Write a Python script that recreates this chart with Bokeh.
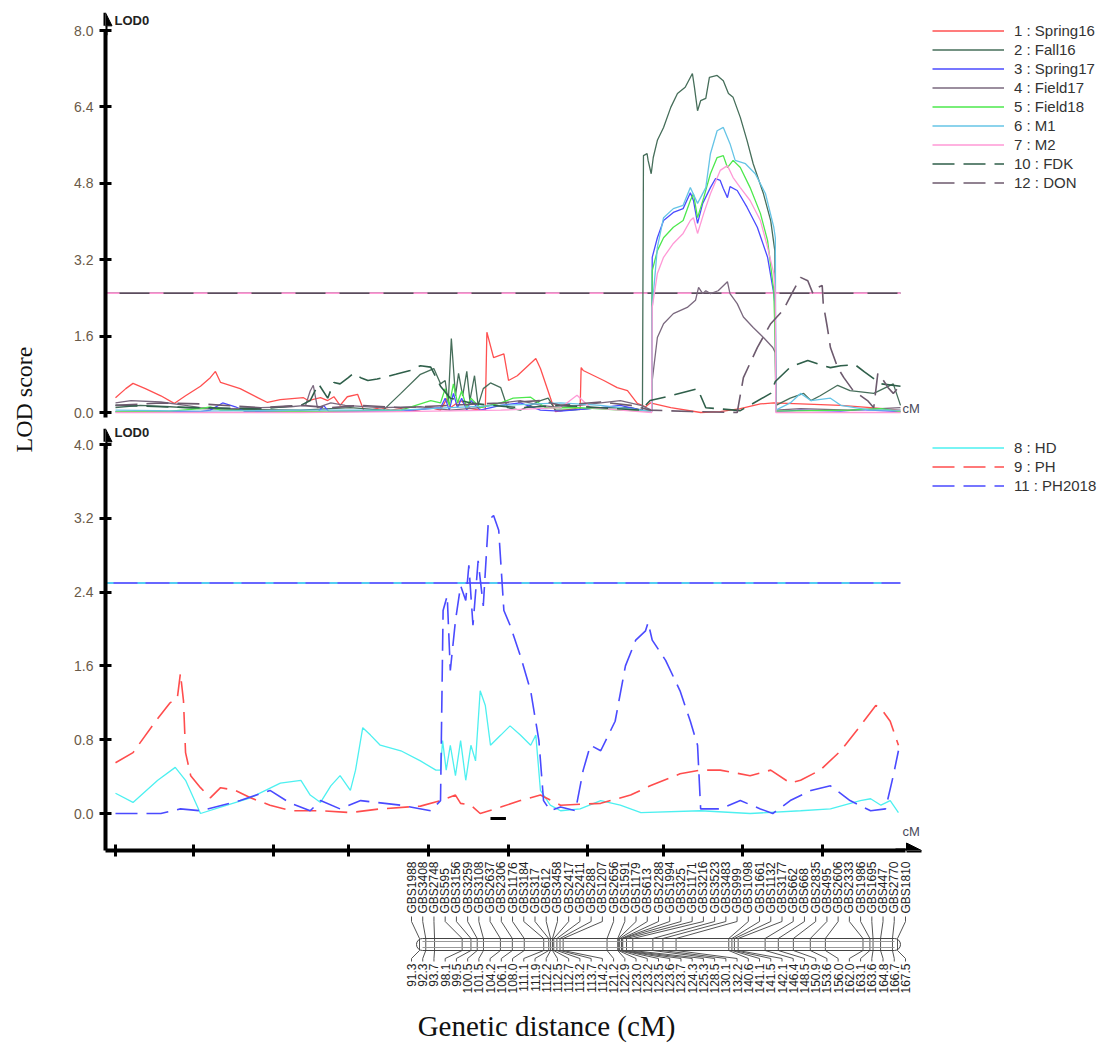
import math
from bokeh.plotting import figure
from bokeh.models import (Range1d, LinearAxis, FixedTicker, PrintfTickFormatter,
                          Legend, LegendItem, Label, Arrow, NormalHead)
from bokeh.layouts import row, column
from bokeh.embed import file_html
from bokeh.resources import INLINE
from bokeh.core.properties import value

# ------------------------------------------------------------------ data
# (position cM, LOD)
spring16 = [(91.3, 0.31), (92.3, 0.5), (93.0, 0.61), (94.2, 0.5), (95.7, 0.35), (97.0, 0.19),
            (98.1, 0.35), (99.55, 0.55), (100.5, 0.73), (101.0, 0.86), (101.5, 0.63), (103.4, 0.5),
            (105.1, 0.31), (106.05, 0.21), (107.3, 0.27), (109.55, 0.31), (110.0, 0.25), (111.2, 0.31),
            (111.9, 0.25), (112.5, 0.33), (113.1, 0.15), (113.8, 0.33), (114.8, 0.38), (115.4, 0.04),
            (116.05, 0.05), (117.0, 0.1), (118.0, 0.05), (119.0, 0.08), (119.9, 0.03), (120.9, 0.06),
            (121.9, 0.1), (122.85, 0.05), (123.5, 0.3), (123.8, 0.1), (124.8, 0.25), (125.8, 0.08),
            (126.7, 0.05), (127.2, 0.06), (127.35, 1.68), (128.0, 1.15), (129.0, 1.23), (129.45, 0.67),
            (130.3, 0.77), (132.1, 1.13), (132.55, 0.92), (133.7, 0.19), (134.0, 0.02), (134.95, 0.05),
            (135.95, 0.08), (136.4, 0.06), (136.5, 0.94), (136.7, 0.88), (138.7, 0.67), (140.0, 0.52),
            (141.0, 0.46), (141.95, 0.19), (142.75, 0.12), (143.2, 0.2), (145.2, 0.1), (148.1, 0.0),
            (150.0, 0.02), (151.95, 0.08), (153.9, 0.18), (155.2, 0.2), (157.8, 0.18), (161.7, 0.15),
            (164.6, 0.1), (167.5, 0.05)]
fall16 = [(91.3, 0.1), (93.7, 0.15), (96.6, 0.12), (99.55, 0.08), (104.4, 0.06), (109.3, 0.05),
          (114.1, 0.1), (117.3, 0.05), (119.0, 0.4), (120.9, 0.8), (122.2, 0.92), (122.85, 0.6),
          (123.3, 0.67), (123.6, 0.2), (123.9, 1.55), (124.3, 0.35), (124.6, 0.82), (125.0, 0.35),
          (125.4, 0.86), (125.7, 0.25), (126.15, 0.77), (126.5, 0.15), (127.0, 0.5), (127.7, 0.62),
          (128.7, 0.52), (129.35, 0.1), (130.6, 0.05), (132.55, 0.25), (133.3, 0.3), (134.0, 0.05),
          (135.5, 0.05), (138.4, 0.1), (141.3, 0.1), (142.45, 0.05), (142.55, 5.38), (142.9, 5.42),
          (143.0, 5.28), (143.3, 5.0), (143.5, 5.34), (143.9, 5.7), (144.5, 5.97), (145.2, 6.39),
          (145.85, 6.68), (146.6, 6.81), (147.3, 7.1), (147.5, 6.81), (147.8, 6.32), (148.1, 6.53),
          (148.6, 6.58), (148.95, 7.02), (149.7, 7.06), (150.3, 6.95), (150.8, 6.68), (151.25, 6.6),
          (151.95, 6.18), (152.6, 5.7), (153.2, 5.21), (154.2, 4.58), (154.9, 4.02), (155.3, 3.39),
          (155.4, 0.15), (156.8, 0.3), (158.1, 0.4), (158.8, 0.25), (159.7, 0.35), (161.4, 0.57),
          (162.6, 0.46), (164.9, 0.4), (166.8, 0.6), (167.5, 0.15)]
spring17 = [(91.3, 0.02), (99.55, 0.02), (100.5, 0.05), (101.7, 0.2), (102.95, 0.12), (103.9, 0.02),
            (109.3, 0.01), (111.0, 0.02), (111.5, 0.15), (112.0, 0.02), (119.0, 0.03), (122.85, 0.1),
            (123.3, 0.3), (123.7, 0.05), (124.1, 0.4), (124.5, 0.1), (124.9, 0.3), (125.4, 0.05),
            (125.8, 0.25), (126.7, 0.05), (128.7, 0.15), (130.6, 0.2), (132.55, 0.05), (134.5, 0.03),
            (138.4, 0.1), (140.3, 0.15), (142.3, 0.05), (143.35, 0.02), (143.4, 3.25), (143.9, 3.66),
            (144.5, 4.02), (145.45, 4.19), (146.4, 4.27), (147.1, 4.6), (147.4, 4.44), (147.8, 3.96),
            (148.3, 4.38), (149.05, 4.71), (149.55, 4.9), (150.0, 4.86), (150.3, 4.69), (150.7, 4.5),
            (150.95, 4.73), (151.65, 4.65), (152.6, 4.3), (153.6, 3.88), (154.6, 3.25), (155.2, 2.49),
            (155.35, 2.2), (155.4, 0.02), (157.8, 0.05), (161.7, 0.03), (163.6, 0.06), (167.5, 0.02)]
field17 = [(91.3, 0.2), (92.8, 0.25), (95.7, 0.22), (98.1, 0.15), (99.55, 0.1), (102.5, 0.08),
           (105.4, 0.1), (108.3, 0.12), (109.75, 0.15), (110.2, 0.45), (110.5, 0.57), (110.9, 0.1),
           (112.2, 0.2), (113.6, 0.15), (117.0, 0.1), (120.9, 0.12), (123.8, 0.05), (126.7, 0.1),
           (128.7, 0.2), (130.6, 0.25), (132.55, 0.15), (134.5, 0.1), (138.4, 0.2), (140.3, 0.25),
           (142.3, 0.15), (143.35, 0.05), (143.4, 0.67), (143.9, 1.57), (144.5, 1.86), (145.45, 2.07),
           (146.8, 2.2), (147.6, 2.35), (147.9, 2.62), (148.3, 2.49), (148.6, 2.55), (149.05, 2.49),
           (149.8, 2.55), (150.7, 2.74), (150.95, 2.49), (151.65, 2.28), (152.25, 2.0), (153.2, 1.78),
           (154.2, 1.57), (155.1, 1.36), (155.35, 1.25), (155.4, 0.05), (157.8, 0.08), (162.6, 0.05),
           (167.5, 0.1)]
field18 = [(91.3, 0.02), (96.6, 0.03), (99.55, 0.08), (100.5, 0.12), (101.5, 0.05), (109.3, 0.02),
           (119.0, 0.05), (121.9, 0.25), (122.85, 0.2), (123.3, 0.5), (123.7, 0.15), (124.1, 0.6),
           (124.5, 0.2), (124.9, 0.45), (125.4, 0.1), (125.8, 0.3), (126.7, 0.1), (128.7, 0.2),
           (129.9, 0.3), (131.6, 0.32), (133.05, 0.1), (136.4, 0.1), (140.3, 0.05), (143.35, 0.03),
           (143.4, 2.97), (143.9, 3.39), (144.5, 3.66), (145.45, 3.88), (146.4, 4.02), (147.1, 4.44),
           (147.4, 4.58), (147.8, 4.08), (148.4, 4.5), (149.05, 5.0), (149.7, 5.34), (150.3, 5.38),
           (150.7, 5.13), (151.25, 5.28), (151.95, 5.13), (152.9, 4.71), (153.9, 4.17), (154.6, 3.6),
           (155.2, 2.55), (155.35, 1.36), (155.4, 0.03), (162.6, 0.05), (165.6, 0.08), (167.5, 0.02)]
m1 = [(91.3, 0.05), (99.55, 0.03), (109.3, 0.05), (119.0, 0.05), (123.8, 0.1), (128.7, 0.15),
      (134.5, 0.2), (138.4, 0.15), (142.3, 0.05), (143.35, 0.02), (143.4, 2.2), (143.9, 3.46),
      (144.5, 4.08), (145.45, 4.27), (146.4, 4.34), (147.1, 4.71), (147.8, 4.38), (148.6, 4.71),
      (149.05, 5.42), (149.7, 5.9), (150.3, 5.97), (150.7, 5.76), (150.95, 5.63), (151.45, 5.28),
      (152.45, 5.21), (153.4, 5.0), (154.4, 4.58), (155.2, 3.88), (155.35, 3.66), (155.4, 0.05),
      (156.8, 0.2), (157.8, 0.4), (158.8, 0.25), (160.7, 0.3), (161.7, 0.15), (164.6, 0.05),
      (167.5, 0.05)]
m2 = [(91.3, 0.0), (109.3, 0.0), (119.0, 0.02), (128.7, 0.05), (134.5, 0.1), (136.1, 0.36),
      (137.4, 0.1), (140.3, 0.05), (143.35, 0.0), (143.4, 2.2), (143.9, 2.91), (144.5, 3.25),
      (145.45, 3.54), (146.4, 3.75), (147.1, 4.02), (147.4, 4.08), (147.8, 3.75), (148.4, 4.17),
      (149.05, 4.58), (150.0, 5.07), (150.7, 5.17), (151.25, 4.92), (151.95, 4.71), (152.9, 4.44),
      (153.9, 4.02), (154.6, 3.46), (155.2, 2.91), (155.35, 2.49), (155.4, 0.0), (167.5, 0.0)]
fdk = [(91.3, 0.15), (95.7, 0.12), (99.55, 0.1), (105.4, 0.08), (109.3, 0.15), (110.2, 0.25),
       (111.0, 0.6), (111.9, 0.3), (112.5, 0.63), (113.1, 0.6), (113.9, 0.73), (114.4, 0.82),
       (115.1, 0.73), (115.8, 0.67), (116.7, 0.7), (118.5, 0.8), (119.9, 0.88), (120.9, 0.98),
       (121.9, 0.95), (122.85, 0.55), (123.8, 0.3), (125.8, 0.2), (127.7, 0.15), (130.6, 0.1),
       (134.5, 0.15), (138.4, 0.1), (142.3, 0.05), (143.2, 0.25), (145.2, 0.35), (147.8, 0.5),
       (148.6, 0.1), (151.95, 0.04), (154.9, 0.4), (155.35, 0.65), (156.8, 0.95), (158.5, 1.09),
       (159.7, 1.0), (160.7, 0.94), (161.7, 0.98), (163.1, 1.0), (164.0, 0.85), (165.6, 0.6),
       (167.5, 0.55)]
don = [(91.3, 0.15), (95.7, 0.2), (99.55, 0.18), (105.4, 0.1), (109.3, 0.15), (112.2, 0.1),
       (115.1, 0.15), (119.0, 0.1), (123.8, 0.15), (128.7, 0.2), (132.55, 0.25), (134.5, 0.15),
       (138.4, 0.22), (141.3, 0.15), (143.2, 0.05), (147.1, 0.02), (151.65, 0.0), (152.25, 0.73),
       (153.6, 1.36), (154.9, 1.86), (156.1, 2.14), (157.1, 2.55), (157.8, 2.83), (158.5, 2.76),
       (159.0, 2.49), (159.5, 2.62), (159.9, 2.66), (160.0, 2.28), (160.4, 1.78), (160.7, 1.36),
       (161.4, 0.94), (162.0, 0.73), (162.9, 0.46), (164.3, 0.25), (164.9, 0.1), (165.3, 0.82),
       (165.6, 0.75), (166.3, 0.52), (166.8, 0.4), (167.2, 0.5), (167.5, 0.45)]

hd = [(91.3, 0.22), (93.0, 0.12), (95.4, 0.36), (97.1, 0.5), (98.1, 0.36), (99.55, 0.0),
      (101.5, 0.07), (104.4, 0.17), (107.3, 0.33), (109.3, 0.36), (110.2, 0.2), (111.2, 0.12),
      (112.2, 0.3), (113.1, 0.41), (114.1, 0.25), (114.6, 0.47), (115.3, 0.93), (116.05, 0.85),
      (117.0, 0.74), (119.0, 0.68), (120.9, 0.57), (122.4, 0.47), (122.85, 0.47), (123.05, 0.79),
      (123.4, 0.47), (123.8, 0.74), (124.3, 0.41), (124.8, 0.79), (125.3, 0.36), (125.8, 0.74),
      (126.25, 0.57), (126.7, 1.33), (127.2, 1.17), (127.7, 0.74), (128.7, 0.85), (129.6, 0.95),
      (130.6, 0.85), (131.6, 0.74), (132.1, 0.85), (132.55, 0.25), (133.5, 0.09), (134.5, 0.03),
      (136.4, 0.05), (138.4, 0.14), (140.3, 0.09), (142.3, 0.01), (148.1, 0.03), (152.9, 0.0),
      (157.8, 0.03), (160.7, 0.05), (163.6, 0.14), (164.6, 0.16), (165.6, 0.09), (166.5, 0.14),
      (167.3, 0.01)]
ph = [(91.3, 0.55), (93.0, 0.66), (95.2, 1.0), (96.6, 1.2), (97.3, 1.25), (97.6, 1.52), (97.9, 1.22),
      (98.1, 0.66), (98.6, 0.41), (99.55, 0.28), (100.5, 0.17), (101.5, 0.28), (102.95, 0.25),
      (104.4, 0.17), (106.3, 0.09), (108.3, 0.03), (111.2, 0.03), (114.1, 0.01), (117.0, 0.05),
      (120.9, 0.08), (122.85, 0.14), (124.3, 0.2), (124.8, 0.11), (125.8, 0.09), (126.7, 0.0),
      (128.7, 0.07), (130.6, 0.14), (132.55, 0.2), (134.5, 0.09), (138.4, 0.11), (141.3, 0.2),
      (143.2, 0.3), (146.1, 0.43), (148.1, 0.47), (150.0, 0.47), (152.9, 0.41), (154.9, 0.47),
      (156.8, 0.33), (157.8, 0.36), (159.7, 0.47), (161.7, 0.68), (163.6, 0.95), (165.1, 1.17),
      (165.6, 1.14), (166.5, 1.0), (167.3, 0.74)]
ph2018 = [(91.3, 0.0), (95.7, 0.0), (97.6, 0.05), (99.55, 0.03), (103.4, 0.14), (106.3, 0.25),
          (108.3, 0.11), (110.2, 0.03), (111.2, 0.14), (113.1, 0.05), (115.1, 0.14), (119.0, 0.09),
          (121.9, 0.03), (122.85, 0.14), (123.1, 2.2), (123.5, 2.36), (123.8, 1.55), (124.3, 2.09),
          (124.8, 2.47), (125.3, 2.31), (125.6, 2.69), (126.0, 2.04), (126.5, 2.74), (127.0, 2.25),
          (127.5, 3.18), (128.0, 3.23), (128.5, 3.07), (129.0, 2.2), (129.6, 2.04), (130.6, 1.71),
          (131.6, 1.33), (132.4, 0.79), (132.85, 0.14), (133.5, 0.03), (134.5, 0.07), (135.95, 0.03),
          (136.7, 0.47), (137.4, 0.74), (138.4, 0.68), (139.8, 1.0), (140.8, 1.6), (141.8, 1.88),
          (142.75, 1.98), (143.0, 2.07), (143.4, 1.88), (144.7, 1.66), (146.1, 1.33), (147.1, 1.0),
          (147.8, 0.74), (148.1, 0.05), (150.0, 0.05), (151.95, 0.14), (153.9, 0.05), (155.1, 0.0),
          (156.8, 0.14), (158.8, 0.25), (160.7, 0.3), (162.6, 0.14), (164.6, 0.03), (166.05, 0.05),
          (166.8, 0.41), (167.3, 0.68)]

threshold = 2.5
qtl_interval = [127.7, 129.2]
top_ticks = [0.0, 1.6, 3.2, 4.8, 6.4, 8.0]
bottom_ticks = [0.0, 0.8, 1.6, 2.4, 3.2, 4.0]
x_ticks = [91.3, 98.9, 106.6, 113.9, 121.7, 129.4, 137.1, 144.5, 152.2, 159.9]

marker_names = ["GBS1988", "GBS3408", "GBS2748", "GBS595", "GBS3156", "GBS3259", "GBS3108",
                "GBS2637", "GBS2306", "GBS1176", "GBS3184", "GBS317", "GBS612", "GBS3458",
                "GBS2417", "GBS2411", "GBS288", "GBS1207", "GBS2656", "GBS1591", "GBS1179",
                "GBS613", "GBS2288", "GBS1994", "GBS325", "GBS1171", "GBS3216", "GBS3523",
                "GBS3483", "GBS999", "GBS1098", "GBS1661", "GBS1132", "GBS3177", "GBS662",
                "GBS668", "GBS2835", "GBS495", "GBS2606", "GBS2333", "GBS1986", "GBS1695",
                "GBS447", "GBS2770", "GBS1810"]
marker_pos = [91.3, 92.3, 93.7, 98.1, 99.5, 100.5, 101.5, 104.2, 106.1, 108.0, 111.1, 111.9,
              112.2, 112.5, 112.7, 113.2, 113.7, 114.2, 121.2, 122.9, 123.0, 123.2, 123.5, 123.6,
              123.7, 124.3, 125.3, 128.5, 130.1, 132.2, 140.6, 141.1, 141.5, 142.1, 146.4, 148.5,
              150.9, 153.6, 156.0, 162.0, 163.1, 163.6, 164.8, 166.7, 167.5]

top_series = [
    ("1 : Spring16", spring16, "#ff5050", None),
    ("2 : Fall16", fall16, "#466e5a", None),
    ("3 : Spring17", spring17, "#4a4aff", None),
    ("4 : Field17", field17, "#7a687e", None),
    ("5 : Field18", field18, "#4de84d", None),
    ("6 : M1", m1, "#66c4e6", None),
    ("7 : M2", m2, "#ff99d6", None),
    ("10 : FDK", fdk, "#2f5f4a", "22 9"),
    ("12 : DON", don, "#6d5a6e", "22 9"),
]
bottom_series = [
    ("8 : HD", hd, "#4df0f0", None),
    ("9 : PH", ph, "#ff4d4d", "22 9"),
    ("11 : PH2018", ph2018, "#4a4aff", "22 9"),
]

# ------------------------------------------------------------------ layout helpers
K = 76.2 / 785.0                      # cM per screen pixel in the LOD panels
def cx(px):
    return 91.3 + (px - 115) * K
X0, X1 = cx(105), cx(1104)
S = (897 - 419) / 76.2                # screen pixels per cM on the drawn map
def mx(px):
    return 91.3 + (px - 419) / S

TICK_COLOR = "#6a5a48"
FONT = "Liberation Sans"
MAP_TOP = 858


def base_fig(w, h, xr, yr, **kw):
    f = figure(width=w, height=h, x_range=xr, y_range=yr, output_backend="svg",
               toolbar_location=None, x_axis_location=None, y_axis_location=None,
               outline_line_color=None, background_fill_color="white",
               border_fill_color="white", **kw)
    f.grid.visible = False
    return f


def y_axis(fig, ticks, bounds):
    ax = LinearAxis(bounds=bounds, ticker=FixedTicker(ticks=ticks),
                    formatter=PrintfTickFormatter(format="%.1f"),
                    axis_line_width=4, axis_line_color="black",
                    major_tick_in=6, major_tick_out=6, major_tick_line_width=3,
                    major_tick_line_color="black", minor_tick_line_color=None,
                    major_label_text_font=FONT, major_label_text_font_size="14px",
                    major_label_text_color=TICK_COLOR, major_label_standoff=6)
    fig.add_layout(ax, "left")


def make_legend(fig, renderers, labels, loc):
    items = [LegendItem(label=l, renderers=[r]) for l, r in zip(labels, renderers)]
    leg = Legend(items=items, location=loc, orientation="vertical", glyph_width=72,
                 glyph_height=17, label_height=17, label_standoff=10, spacing=2,
                 padding=6, margin=0, border_line_color=None, background_fill_alpha=0,
                 label_text_font=FONT, label_text_font_size="15px",
                 label_text_color="#333333")
    fig.add_layout(leg)


# ------------------------------------------------------------------ top panel
top = base_fig(1059, 425, Range1d(X0, X1), Range1d(-13 / 47.75, 8 + 30 / 47.75),
               min_border_left=60, min_border_right=0, min_border_top=0, min_border_bottom=0)
y_axis(top, top_ticks, (-0.1, 8.0))
top.add_layout(Arrow(end=NormalHead(size=13, fill_color="black", line_color="black"),
                     x_start=X0, y_start=7.9, x_end=X0, y_end=8.37, line_width=4))
top.line([X0, marker_pos[-1]], [threshold, threshold], line_color="#5b4b5d", line_width=1.6)
top.line([X0, marker_pos[-1]], [threshold, threshold], line_color="#ff99d6", line_width=1.6,
         line_dash="14 30")
top_r = []
for lab_, ser, col, dash in top_series:
    kw = dict(line_dash=dash, line_width=1.6) if dash else dict(line_width=1.3)
    r = top.line([p[0] for p in ser], [p[1] for p in ser], line_color=col, **kw)
    top_r.append(r)
make_legend(top, top_r, [s[0] for s in top_series], (827, 234.5))
top.add_layout(Label(x=X0, y=8.21, x_offset=9, text="LOD0", text_font=FONT,
                     text_font_size="13px", text_font_style="bold", text_color="#222222",
                     text_baseline="middle"))
top.add_layout(Label(x=cx(902), y=0.08, text="cM", text_font=FONT, text_font_size="13px",
                     text_color="#4a4a5a", text_baseline="middle"))

# ------------------------------------------------------------------ bottom panel
bot = base_fig(1059, MAP_TOP - 425, Range1d(X0, X1), Range1d(-37 / 92.25, 4 + 19 / 92.25),
               min_border_left=60, min_border_right=0, min_border_top=0,
               min_border_bottom=MAP_TOP - 850)
y_axis(bot, bottom_ticks, (-37 / 92.25, 4.0))
bot.add_layout(Arrow(end=NormalHead(size=13, fill_color="black", line_color="black"),
                     x_start=X0, y_start=3.95, x_end=X0, y_end=4.17, line_width=4))
xax = LinearAxis(bounds=(X0, cx(905)), ticker=FixedTicker(ticks=x_ticks),
                 axis_line_width=4, axis_line_color="black", major_tick_in=6, major_tick_out=6,
                 major_tick_line_width=3, major_tick_line_color="black",
                 minor_tick_line_color=None, major_label_text_font_size="1px",
                 major_label_text_color=None, major_label_standoff=0)
bot.add_layout(xax, "below")
bot.add_layout(Arrow(end=NormalHead(size=15, fill_color="black", line_color="black"),
                     x_start=cx(895), y_start=-37 / 92.25, x_end=cx(921), y_end=-37 / 92.25,
                     line_width=4))
bot.line([X0, marker_pos[-1]], [threshold, threshold], line_color="#3535ff", line_width=1.5)
bot.line([X0, marker_pos[-1]], [threshold, threshold], line_color="#4df0f0", line_width=1.5,
         line_dash="8 24")
bot_r = []
for lab_, ser, col, dash in bottom_series:
    kw = dict(line_dash=dash, line_width=1.6) if dash else dict(line_width=1.3)
    r = bot.line([p[0] for p in ser], [p[1] for p in ser], line_color=col, **kw)
    bot_r.append(r)
bot.line(qtl_interval, [-0.055, -0.055], line_color="black", line_width=3)
make_legend(bot, bot_r, [s[0] for s in bottom_series], (827, 356.5))
bot.add_layout(Label(x=X0, y=4.13, x_offset=9, text="LOD0", text_font=FONT,
                     text_font_size="13px", text_font_style="bold", text_color="#222222",
                     text_baseline="middle"))
bot.add_layout(Label(x=cx(902), y=-0.2, text="cM", text_font=FONT, text_font_size="13px",
                     text_color="#4a4a5a", text_baseline="middle"))

# ------------------------------------------------------------------ linkage map
mapf = base_fig(1059, 1048 - MAP_TOP, Range1d(mx(105), mx(1104)), Range1d(1048, MAP_TOP),
                min_border_left=60, min_border_right=0, min_border_top=0, min_border_bottom=0)
n = len(marker_names)
slot = [mx(411 + i * (905 - 411) / (n - 1)) for i in range(n)]
conn_x = [[s, s, p, p, s, s] for s, p in zip(slot, marker_pos)]
conn_y = [[916, 921, 938, 950, 958, 961] for _ in range(n)]
mapf.multi_line(conn_x, conn_y, line_color="#555555", line_width=1)
bl = marker_pos[0] - 3 / S + 6 / S
br = marker_pos[-1] + 3 / S - 6 / S
for yy, c in [(938, "#444444"), (950, "#444444"), (941, "#999999"), (947, "#999999")]:
    mapf.line([bl, br], [yy, yy], line_color=c, line_width=1)
mapf.arc(x=[bl], y=[944], radius=6, radius_units="screen", start_angle=math.pi / 2,
         end_angle=3 * math.pi / 2, line_color="#444444", line_width=1)
mapf.arc(x=[br], y=[944], radius=6, radius_units="screen", start_angle=-math.pi / 2,
         end_angle=math.pi / 2, line_color="#444444", line_width=1)
mapf.text(x=slot, y=[913] * n, text=marker_names, angle=math.pi / 2, text_align="left",
          text_baseline="middle", text_font=value(FONT), text_font_size="12px",
          text_color="#222222")
mapf.text(x=slot, y=[963] * n, text=[f"{v:.1f}" for v in marker_pos], angle=math.pi / 2,
          text_align="right", text_baseline="middle", text_font=value(FONT),
          text_font_size="12px", text_color="#222222")
mapf.add_layout(Label(x=mx(546), y=1025, text="Genetic distance (cM)",
                      text_font="Liberation Serif", text_font_size="29px",
                      text_color="#111111", text_align="center", text_baseline="middle"))

# ------------------------------------------------------------------ y title column
lab = base_fig(45, 1048, Range1d(0, 45), Range1d(1048, 0), min_border=0)
lab.add_layout(Label(x=23, y=399, text="LOD score", angle=math.pi / 2,
                     text_font="Liberation Serif", text_font_size="24px",
                     text_color="#111111", text_align="center", text_baseline="middle"))

layout = row(lab, column(top, bot, mapf))
open("out.html", "w").write(file_html(layout, INLINE))
